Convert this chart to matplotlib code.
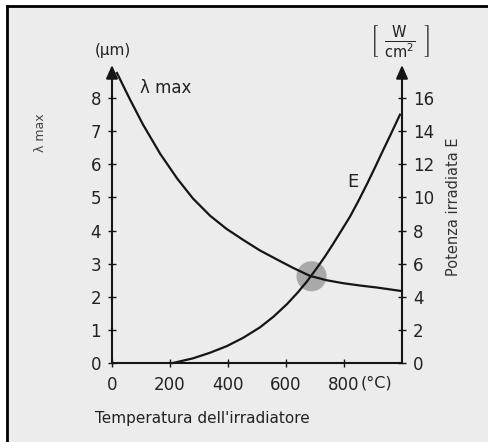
import matplotlib
matplotlib.use("Agg")
import matplotlib.pyplot as plt
from matplotlib.patches import Rectangle
from matplotlib.lines import Line2D
import numpy as np

# ---- data ----
temp_lambda = [17, 62, 107, 166, 224, 279, 338, 395, 452, 510, 568, 625, 683, 740, 797, 855, 913, 993]   # °C
lambda_max = [8.76, 7.96, 7.20, 6.32, 5.58, 4.97, 4.45, 4.05, 3.72, 3.40, 3.13, 2.87, 2.63, 2.50, 2.41, 2.34, 2.28, 2.18]  # µm

temp_E = [210, 279, 338, 396, 452, 510, 557, 603, 640, 672, 707, 735, 762, 790, 821, 850, 879, 906, 934, 963, 993]   # °C
power_E = [0.0, 0.28, 0.62, 1.02, 1.52, 2.15, 2.80, 3.55, 4.25, 4.92, 5.75, 6.45, 7.18, 7.97, 8.85, 9.80, 10.80, 11.78, 12.82, 13.88, 15.0]  # W/cm²

cross_T = [688]
cross_lambda = [2.62]

x_ticks = [0, 200, 400, 600, 800]
x_ticklabels = ["0", "200", "400", "600", "800"]
left_ticks = [0, 1, 2, 3, 4, 5, 6, 7, 8]
right_ticks = [0, 2, 4, 6, 8, 10, 12, 14, 16]

W, H = 488, 442
fig = plt.figure(figsize=(W / 100, H / 100), dpi=100)
fig.patch.set_facecolor("white")
bg = "#ececec"
fig.patches.append(Rectangle((7 / W, 0), 1, 1 - 6 / H, transform=fig.transFigure,
                             facecolor=bg, edgecolor="none", zorder=-10))
fig.lines.append(Line2D([7 / W, 1], [1 - 6 / H, 1 - 6 / H], transform=fig.transFigure,
                        color="black", lw=2, zorder=-5))
fig.lines.append(Line2D([7 / W, 7 / W], [0, 1 - 6 / H], transform=fig.transFigure,
                        color="black", lw=2, zorder=-5))

x0, x1, y0, y1 = 112, 402, 363, 65
ax = fig.add_axes([x0 / W, 1 - y0 / H, (x1 - x0) / W, (y0 - y1) / H])
ax.set_facecolor("none")
ax.set_xlim(0, 1000)
ax.set_ylim(0, 9.0)
ax2 = ax.twinx()
ax2.set_ylim(0, 18.0)
ax2.set_facecolor("none")

ink = "#151515"
for a in (ax, ax2):
    for s in a.spines.values():
        s.set_visible(False)

# axes lines with arrows
ax.plot([0, 1000], [0, 0], color=ink, lw=1.5, clip_on=False, zorder=3)
ax.annotate("", xy=(0, 9.0), xytext=(0, 0), xycoords="data",
            arrowprops=dict(arrowstyle="-|>,head_length=0.5,head_width=0.22", color=ink,
                            lw=1.5, mutation_scale=16, shrinkA=0, shrinkB=0),
            annotation_clip=False)
ax.annotate("", xy=(1000, 9.0), xytext=(1000, 0), xycoords="data",
            arrowprops=dict(arrowstyle="-|>,head_length=0.5,head_width=0.22", color=ink,
                            lw=1.5, mutation_scale=16, shrinkA=0, shrinkB=0),
            annotation_clip=False)

# crossing highlight
ax.scatter(cross_T, cross_lambda, s=470, color="#a9a9a9", edgecolors="none", zorder=2)

ax.plot(temp_lambda, lambda_max, color=ink, lw=1.6, zorder=4, clip_on=False,
        solid_joinstyle="round")
ax2.plot(temp_E, power_E, color=ink, lw=1.6, zorder=4, clip_on=False,
         solid_joinstyle="round")

fs = 12
ax.set_xticks(x_ticks)
ax.set_xticklabels(x_ticklabels)
ax.set_yticks(left_ticks)
ax2.set_yticks(right_ticks)
ax.tick_params(axis="x", direction="inout", length=6, width=1, colors=ink,
               labelsize=fs, pad=6)
ax.tick_params(axis="y", direction="inout", length=6, width=1, colors=ink,
               labelsize=fs, pad=5)
ax2.tick_params(axis="y", direction="inout", length=6, width=1, colors=ink,
                labelsize=fs, pad=5)
for t in ax.get_xticklabels() + ax.get_yticklabels() + ax2.get_yticklabels():
    t.set_color("#222222")

def px(x, y):
    return x / W, 1 - y / H

fig.text(*px(361, 383), "(°C)", fontsize=11.5, ha="left", va="center", color="#222222")
fig.text(*px(95, 418), "Temperatura dell'irradiatore", fontsize=11, ha="left",
         va="center", color="#222222")
fig.text(*px(113, 50), "(µm)", fontsize=11, ha="center", va="center", color="#222222")
fig.text(*px(140, 88), "λ max", fontsize=12, ha="left", va="center", color="#222222")
fig.text(*px(40, 133), "λ max", fontsize=9, ha="center", va="center",
         rotation=90, color="#444444")
fig.text(*px(353, 182), "E", fontsize=13, ha="center", va="center", color="#222222")
fig.text(*px(453, 207), "Potenza irradiata E", fontsize=10.5, ha="center",
         va="center", rotation=90, color="#333333")
fig.text(*px(400, 42), r"$\left[\ \frac{\mathrm{W}}{\mathrm{cm}^2}\ \right]$",
         fontsize=15, ha="center", va="center", color="#222222")

fig.savefig("out.png", dpi=100, facecolor=fig.get_facecolor())
